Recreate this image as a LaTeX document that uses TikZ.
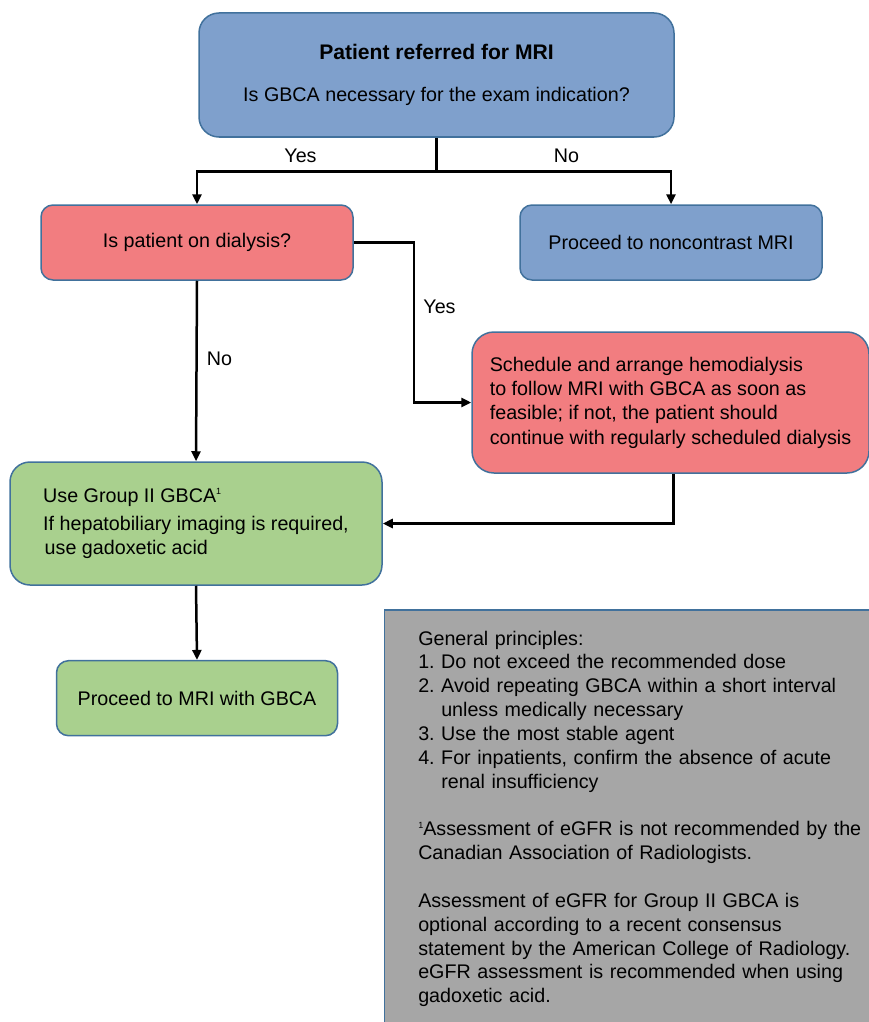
\documentclass[tikz,border=0pt]{standalone}
\usepackage{fontspec}
\setmainfont{Liberation Sans}
\usetikzlibrary{
  arrows.meta,
  positioning
}
\frenchspacing
\definecolor{mriblue}{RGB}{127,160,204}
\definecolor{mrired}{RGB}{242,125,128}
\definecolor{mrigreen}{RGB}{169,208,142}
\definecolor{mrigray}{RGB}{166,166,166}
\definecolor{mriedge}{RGB}{65,113,156}
\newcommand{\noteone}{\raisebox{7.5pt}{\fontsize{9}{9}\selectfont 1}}
\tikzset{
  mriBox/.style={
    rectangle,
    draw=mriedge,
    line width=1.5pt,
    align=center,
    inner sep=0pt,
    font=\fontsize{19.7}{24.3}\selectfont
  },
  mriQuestion/.style={
    mriBox,
    fill=mriblue
  },
  mriDialysis/.style={
    mriBox,
    fill=mrired
  },
  mriContrast/.style={
    mriBox,
    fill=mrigreen
  },
  mriNote/.style={
    rectangle,
    draw=mriedge,
    fill=mrigray,
    line width=1.5pt,
    anchor=north west,
    align=left,
    text width=450pt,
    inner xsep=34pt,
    inner ysep=21pt,
    font=\fontsize{19.7}{23.85}\selectfont
  },
  mriLabel/.style={
    anchor=base,
    inner sep=0pt,
    font=\fontsize{19.7}{24.3}\selectfont
  },
  mriArrow/.style={
    -{Triangle[length=10pt,width=9pt]},
    line width=2.5pt,
    draw=black
  },
  mriLine/.style={
    line width=2.5pt,
    draw=black
  }
}
\begin{document}
\begin{tikzpicture}[x=1pt, y=-1pt]
  \useasboundingbox (0,0) rectangle (868,1022);

  \node[mriQuestion, minimum width=475pt, minimum height=124pt,
    rounded corners=20pt] (referral) at (436.5,75)
    {{\fontsize{21.1}{24.3}\selectfont\bfseries Patient referred for MRI}\\[18pt]
     Is GBCA necessary for the exam indication?};

  \coordinate (split) at (436.5,171.5);

  \node[mriDialysis, minimum width=312pt, minimum height=75pt,
    rounded corners=12pt] (dialysis) at (197,242.5)
    {Is patient on dialysis?};

  \node[mriQuestion, minimum width=302pt, minimum height=75pt,
    rounded corners=12pt] (noncontrast) at (671,242.5)
    {Proceed to noncontrast MRI};

  \node[mriDialysis, minimum width=397pt, minimum height=141pt,
    rounded corners=22pt, align=left] (hemodialysis) at (670.5,402.5)
    {Schedule and arrange hemodialysis\\
     to follow MRI with GBCA as soon as\\
     feasible; if not, the patient should\\
     continue with regularly scheduled dialysis};

  \node[mriContrast, minimum width=372pt, minimum height=123pt,
    rounded corners=20pt, align=left] (groupii) at (196,523.5)
    {Use Group II GBCA\noteone\\[3.5pt]
     If hepatobiliary imaging is required,\\
     \hspace*{1.5pt}use gadoxetic acid};

  \node[mriContrast, minimum width=281pt, minimum height=75pt,
    rounded corners=12pt] (withgbca) at (197,698.2)
    {Proceed to MRI with GBCA};

  \node[mriNote] (principles) at (383.5,609)
    {General principles:\\
     1. Do not exceed the recommended dose\\
     2. Avoid repeating GBCA within a short interval\\
     \hphantom{2. }unless medically necessary\\
     3. Use the most stable agent\\
     4. For inpatients, confirm the absence of acute\\
     \hphantom{4. }renal insufficiency\\[23.85pt]
     \noteone Assessment of eGFR is not recommended by the\\
     Canadian Association of Radiologists.\\[23.85pt]
     Assessment of eGFR for Group II GBCA is\\
     optional according to a recent consensus\\
     statement by the American College of Radiology.\\
     eGFR assessment is recommended when using\\
     gadoxetic acid.};

  % connectors
  \draw[mriLine] (referral.south) -- (split);
  \draw[mriArrow] (split) -| (dialysis.north);
  \draw[mriArrow] (split) -| (noncontrast.north);
  \draw[mriArrow] (dialysis.east) -- ++(60,0) |- (hemodialysis.west);
  \draw[mriArrow] (dialysis.south) -- (groupii.north);
  \draw[mriArrow] ([xshift=3pt]hemodialysis.south) |- (groupii.east);
  \draw[mriArrow] (groupii.south) -- (withgbca.north);

  \node[mriLabel] (yesmri) at (300.5,162) {Yes};
  \node[mriLabel] (nomri) at (566.5,162) {No};
  \node[mriLabel] (yesdialysis) at (439.5,313) {Yes};
  \node[mriLabel] (nodialysis) at (219.5,365) {No};
\end{tikzpicture}
\end{document}
